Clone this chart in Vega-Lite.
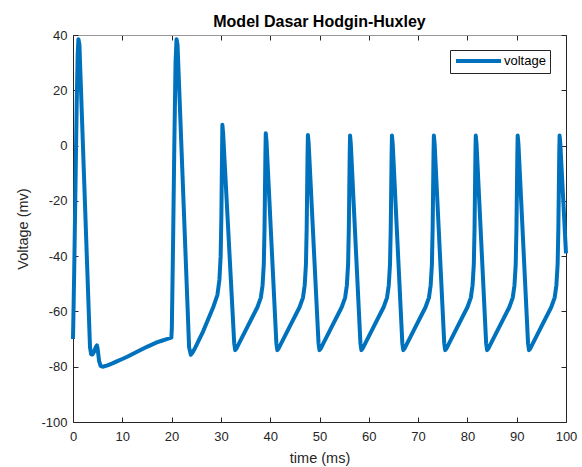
{
  "$schema": "https://vega.github.io/schema/vega-lite/v6.json",
  "width": 493,
  "height": 387,
  "autosize": {"type": "none"},
  "padding": {"left": 73, "top": 35, "right": 16, "bottom": 45},
  "background": "white",
  "title": {"text": "Model Dasar Hodgin-Huxley", "font": "Liberation Sans", "fontSize": 16, "fontWeight": "bold", "color": "#000000", "offset": -1, "anchor": "middle"},
  "config": {
    "view": {"stroke": null},
    "axis": {"grid": false, "labelFont": "Liberation Sans", "titleFont": "Liberation Sans", "labelFontSize": 13, "titleFontSize": 14.5, "labelColor": "#262626", "titleColor": "#262626", "domainColor": "#262626", "tickColor": "#262626", "tickSize": -5, "titleFontWeight": "normal", "domainWidth": 1, "tickWidth": 1, "labelFlush": false, "labelExpr": "'' + datum.value"}
  },
  "data": {"values": [
    {"t": 0, "v": -70}, {"t": 0.25, "v": -45}, {"t": 0.5, "v": -15}, {"t": 0.75, "v": 15}, {"t": 0.95, "v": 33}, {"t": 1.1, "v": 38.5}, {"t": 1.3, "v": 36.5}, {"t": 3.45, "v": -73}, {"t": 3.7, "v": -75.5}, {"t": 3.95, "v": -75.6}, {"t": 4.3, "v": -74.5}, {"t": 4.65, "v": -72.8}, {"t": 4.85, "v": -72.3}, {"t": 5.0, "v": -73.5}, {"t": 5.3, "v": -78}, {"t": 5.6, "v": -79.7}, {"t": 6.0, "v": -80.0},
    {"t": 7, "v": -79.5}, {"t": 8, "v": -78.8}, {"t": 9, "v": -78.0}, {"t": 10, "v": -77.2}, {"t": 11, "v": -76.4}, {"t": 12, "v": -75.5}, {"t": 13, "v": -74.6}, {"t": 14, "v": -73.7}, {"t": 15, "v": -72.8}, {"t": 16, "v": -72.0}, {"t": 17, "v": -71.2}, {"t": 18, "v": -70.6}, {"t": 19, "v": -70.0}, {"t": 19.95, "v": -69.5},
    {"t": 20.05, "v": -66}, {"t": 20.3, "v": -35}, {"t": 20.55, "v": 0}, {"t": 20.8, "v": 30}, {"t": 21.0, "v": 38.5}, {"t": 21.2, "v": 36.5}, {"t": 23.55, "v": -73}, {"t": 23.9, "v": -75.7}, {"t": 24.2, "v": -75}, {"t": 24.6, "v": -73.8}, {"t": 26.4, "v": -67.2}, {"t": 28.5, "v": -58.2}, {"t": 29.3, "v": -54}, {"t": 29.7, "v": -48.5}, {"t": 29.95, "v": -40}, {"t": 30.1, "v": -25}, {"t": 30.2, "v": -8}, {"t": 30.3, "v": 7.5}, {"t": 30.45, "v": 4.5}, {"t": 32.7, "v": -71.5}, {"t": 32.9, "v": -74},
    {"t": 33.15, "v": -73.4}, {"t": 33.5, "v": -72.2}, {"t": 35.4, "v": -65.5}, {"t": 37.4, "v": -58.5}, {"t": 38.1, "v": -55}, {"t": 38.45, "v": -50.5}, {"t": 38.7, "v": -43}, {"t": 38.85, "v": -30}, {"t": 38.95, "v": -15}, {"t": 39.03, "v": -3}, {"t": 39.1, "v": 4.5}, {"t": 39.25, "v": 1.5}, {"t": 41.25, "v": -71.5}, {"t": 41.45, "v": -74},
    {"t": 41.7, "v": -73.4}, {"t": 42.05, "v": -72.2}, {"t": 43.95, "v": -65.5}, {"t": 45.95, "v": -58.5}, {"t": 46.65, "v": -55}, {"t": 47.0, "v": -50.5}, {"t": 47.25, "v": -43}, {"t": 47.4, "v": -30}, {"t": 47.5, "v": -15}, {"t": 47.58, "v": -3}, {"t": 47.65, "v": 3.8}, {"t": 47.8, "v": 0.8}, {"t": 49.8, "v": -71.5}, {"t": 50.0, "v": -74},
    {"t": 50.25, "v": -73.4}, {"t": 50.6, "v": -72.2}, {"t": 52.5, "v": -65.5}, {"t": 54.5, "v": -58.5}, {"t": 55.2, "v": -55}, {"t": 55.55, "v": -50.5}, {"t": 55.8, "v": -43}, {"t": 55.95, "v": -30}, {"t": 56.05, "v": -15}, {"t": 56.13, "v": -3}, {"t": 56.2, "v": 3.6}, {"t": 56.35, "v": 0.6}, {"t": 58.3, "v": -71.5}, {"t": 58.5, "v": -74},
    {"t": 58.75, "v": -73.4}, {"t": 59.1, "v": -72.2}, {"t": 61.0, "v": -65.5}, {"t": 63.0, "v": -58.5}, {"t": 63.7, "v": -55}, {"t": 64.05, "v": -50.5}, {"t": 64.3, "v": -43}, {"t": 64.45, "v": -30}, {"t": 64.55, "v": -15}, {"t": 64.63, "v": -3}, {"t": 64.7, "v": 3.6}, {"t": 64.85, "v": 0.6}, {"t": 66.8, "v": -71.5}, {"t": 67.0, "v": -74},
    {"t": 67.25, "v": -73.4}, {"t": 67.6, "v": -72.2}, {"t": 69.5, "v": -65.5}, {"t": 71.5, "v": -58.5}, {"t": 72.2, "v": -55}, {"t": 72.55, "v": -50.5}, {"t": 72.8, "v": -43}, {"t": 72.95, "v": -30}, {"t": 73.05, "v": -15}, {"t": 73.13, "v": -3}, {"t": 73.2, "v": 3.6}, {"t": 73.35, "v": 0.6}, {"t": 75.3, "v": -71.5}, {"t": 75.5, "v": -74},
    {"t": 75.75, "v": -73.4}, {"t": 76.1, "v": -72.2}, {"t": 78.0, "v": -65.5}, {"t": 80.0, "v": -58.5}, {"t": 80.7, "v": -55}, {"t": 81.05, "v": -50.5}, {"t": 81.3, "v": -43}, {"t": 81.45, "v": -30}, {"t": 81.55, "v": -15}, {"t": 81.63, "v": -3}, {"t": 81.7, "v": 3.6}, {"t": 81.85, "v": 0.6}, {"t": 83.8, "v": -71.5}, {"t": 84.0, "v": -74},
    {"t": 84.25, "v": -73.4}, {"t": 84.6, "v": -72.2}, {"t": 86.5, "v": -65.5}, {"t": 88.5, "v": -58.5}, {"t": 89.2, "v": -55}, {"t": 89.55, "v": -50.5}, {"t": 89.8, "v": -43}, {"t": 89.95, "v": -30}, {"t": 90.05, "v": -15}, {"t": 90.13, "v": -3}, {"t": 90.2, "v": 3.6}, {"t": 90.35, "v": 0.6}, {"t": 92.3, "v": -71.5}, {"t": 92.5, "v": -74},
    {"t": 92.75, "v": -73.4}, {"t": 93.1, "v": -72.2}, {"t": 95.0, "v": -65.5}, {"t": 97.0, "v": -58.5}, {"t": 97.7, "v": -55}, {"t": 98.05, "v": -50.5}, {"t": 98.3, "v": -43}, {"t": 98.45, "v": -30}, {"t": 98.55, "v": -15}, {"t": 98.63, "v": -3}, {"t": 98.7, "v": 3.6}, {"t": 98.85, "v": 0.6}, {"t": 100, "v": -39}
  ]},
  "layer": [
    {
      "mark": {"type": "line", "strokeWidth": 4, "strokeJoin": "round", "strokeCap": "butt", "clip": false},
      "encoding": {
        "x": {"field": "t", "type": "quantitative", "scale": {"domain": [0, 100], "nice": false}, "axis": {"title": "time (ms)", "values": [0, 10, 20, 30, 40, 50, 60, 70, 80, 90, 100], "labelPadding": 13, "titlePadding": 8}},
        "y": {"field": "v", "type": "quantitative", "scale": {"domain": [-100, 40], "nice": false, "zero": false}, "axis": {"title": "Voltage (mv)", "values": [-100, -80, -60, -40, -20, 0, 20, 40], "labelPadding": 11, "titlePadding": 10}},
        "color": {"datum": "voltage", "scale": {"range": ["#0072BD"]}, "legend": {"title": null, "orient": "none", "legendX": 377, "legendY": 15, "symbolType": "M-4.5,0H4.5", "symbolSize": 100, "symbolStrokeWidth": 4, "symbolOffset": 17.5, "labelOffset": 18.5, "labelFont": "Liberation Sans", "labelFontSize": 13, "labelColor": "#000000", "strokeColor": "#262626", "fillColor": "white", "padding": 4, "cornerRadius": 0}}
      }
    },
    {
      "mark": {"type": "line", "opacity": 0},
      "encoding": {
        "x": {"field": "t", "type": "quantitative", "axis": {"orient": "top", "labels": false, "title": null, "domainColor": "#999999", "values": [0, 10, 20, 30, 40, 50, 60, 70, 80, 90, 100]}},
        "y": {"field": "v", "type": "quantitative", "axis": {"orient": "right", "labels": false, "title": null, "values": [-100, -80, -60, -40, -20, 0, 20, 40]}}
      }
    }
  ],
  "resolve": {"axis": {"x": "independent", "y": "independent"}}
}
